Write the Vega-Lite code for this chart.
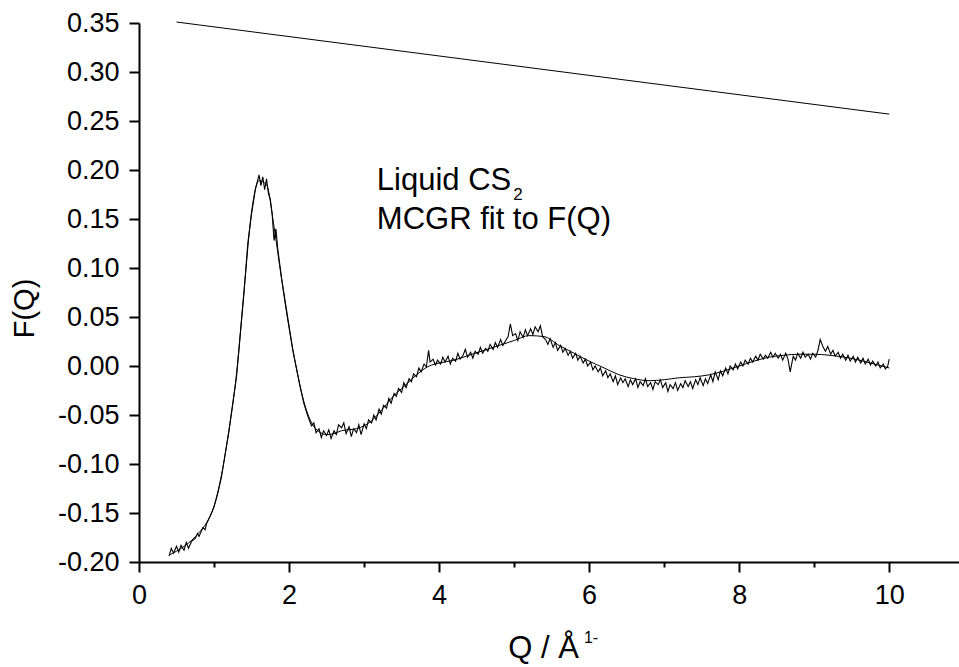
{
  "$schema": "https://vega.github.io/schema/vega-lite/v6.json",
  "width": 820,
  "height": 539,
  "autosize": {"type": "none"},
  "padding": {"left": 139, "top": 23, "right": 0, "bottom": 105},
  "background": "white",
  "config": {"view": {"stroke": null}, "font": "Liberation Sans"},
  "datasets": {
    "exp": [
      {"q":0.40,"f":-0.194},{"q":0.43,"f":-0.186},{"q":0.46,"f":-0.191},{"q":0.50,"f":-0.184},{"q":0.53,"f":-0.190},
      {"q":0.56,"f":-0.183},{"q":0.60,"f":-0.188},{"q":0.63,"f":-0.180},{"q":0.66,"f":-0.186},{"q":0.70,"f":-0.179},
      {"q":0.75,"f":-0.176},{"q":0.78,"f":-0.171},{"q":0.80,"f":-0.174},{"q":0.85,"f":-0.165},{"q":0.88,"f":-0.167},
      {"q":0.90,"f":-0.161},{"q":0.95,"f":-0.153},{"q":1.00,"f":-0.144},{"q":1.05,"f":-0.130},{"q":1.10,"f":-0.113},
      {"q":1.15,"f":-0.089},{"q":1.20,"f":-0.066},{"q":1.25,"f":-0.038},{"q":1.30,"f":-0.011},{"q":1.35,"f":0.032},
      {"q":1.40,"f":0.075},{"q":1.45,"f":0.125},{"q":1.50,"f":0.155},{"q":1.55,"f":0.180},{"q":1.60,"f":0.195},
      {"q":1.625,"f":0.184},{"q":1.65,"f":0.193},{"q":1.675,"f":0.180},{"q":1.70,"f":0.191},{"q":1.725,"f":0.176},
      {"q":1.75,"f":0.170},{"q":1.775,"f":0.155},{"q":1.80,"f":0.128},{"q":1.825,"f":0.140},{"q":1.85,"f":0.119},
      {"q":1.90,"f":0.090},{"q":1.95,"f":0.065},{"q":2.00,"f":0.041},{"q":2.05,"f":0.016},{"q":2.10,"f":-0.003},
      {"q":2.15,"f":-0.022},{"q":2.20,"f":-0.039},{"q":2.25,"f":-0.051},{"q":2.30,"f":-0.061},{"q":2.33,"f":-0.058},
      {"q":2.36,"f":-0.068},{"q":2.40,"f":-0.064},{"q":2.43,"f":-0.073},{"q":2.46,"f":-0.066},{"q":2.50,"f":-0.071},
      {"q":2.53,"f":-0.065},{"q":2.56,"f":-0.074},{"q":2.60,"f":-0.066},{"q":2.63,"f":-0.070},{"q":2.66,"f":-0.060},
      {"q":2.70,"f":-0.063},{"q":2.73,"f":-0.058},{"q":2.76,"f":-0.069},{"q":2.80,"f":-0.062},{"q":2.83,"f":-0.072},
      {"q":2.86,"f":-0.064},{"q":2.90,"f":-0.068},{"q":2.93,"f":-0.060},{"q":2.96,"f":-0.070},{"q":3.00,"f":-0.059},
      {"q":3.03,"f":-0.064},{"q":3.06,"f":-0.055},{"q":3.10,"f":-0.058},{"q":3.13,"f":-0.050},{"q":3.16,"f":-0.055},
      {"q":3.20,"f":-0.044},{"q":3.23,"f":-0.049},{"q":3.26,"f":-0.040},{"q":3.30,"f":-0.043},{"q":3.33,"f":-0.033},
      {"q":3.36,"f":-0.038},{"q":3.40,"f":-0.028},{"q":3.43,"f":-0.031},{"q":3.46,"f":-0.023},{"q":3.50,"f":-0.027},
      {"q":3.53,"f":-0.017},{"q":3.56,"f":-0.022},{"q":3.60,"f":-0.013},{"q":3.63,"f":-0.016},{"q":3.66,"f":-0.008},
      {"q":3.70,"f":-0.011},{"q":3.73,"f":-0.002},{"q":3.76,"f":-0.006},{"q":3.80,"f":0.002},{"q":3.83,"f":-0.001},
      {"q":3.86,"f":0.016},{"q":3.88,"f":0.004},{"q":3.92,"f":0.007},{"q":3.95,"f":0.001},{"q":3.98,"f":0.006},
      {"q":4.02,"f":0.002},{"q":4.05,"f":0.009},{"q":4.08,"f":0.004},{"q":4.12,"f":0.010},{"q":4.15,"f":0.002},
      {"q":4.18,"f":0.008},{"q":4.22,"f":0.005},{"q":4.25,"f":0.013},{"q":4.28,"f":0.007},{"q":4.32,"f":0.011},
      {"q":4.35,"f":0.017},{"q":4.38,"f":0.009},{"q":4.42,"f":0.014},{"q":4.45,"f":0.008},{"q":4.48,"f":0.015},
      {"q":4.52,"f":0.012},{"q":4.55,"f":0.019},{"q":4.58,"f":0.013},{"q":4.62,"f":0.018},{"q":4.65,"f":0.015},
      {"q":4.68,"f":0.022},{"q":4.72,"f":0.017},{"q":4.75,"f":0.024},{"q":4.78,"f":0.019},{"q":4.82,"f":0.027},
      {"q":4.85,"f":0.021},{"q":4.88,"f":0.025},{"q":4.92,"f":0.030},{"q":4.95,"f":0.043},{"q":4.98,"f":0.031},
      {"q":5.02,"f":0.033},{"q":5.05,"f":0.026},{"q":5.08,"f":0.035},{"q":5.12,"f":0.029},{"q":5.15,"f":0.037},
      {"q":5.18,"f":0.031},{"q":5.22,"f":0.038},{"q":5.25,"f":0.032},{"q":5.28,"f":0.040},{"q":5.32,"f":0.035},
      {"q":5.35,"f":0.041},{"q":5.38,"f":0.030},{"q":5.42,"f":0.027},{"q":5.45,"f":0.022},{"q":5.48,"f":0.028},
      {"q":5.52,"f":0.019},{"q":5.55,"f":0.024},{"q":5.58,"f":0.016},{"q":5.62,"f":0.021},{"q":5.65,"f":0.014},
      {"q":5.68,"f":0.018},{"q":5.72,"f":0.011},{"q":5.75,"f":0.015},{"q":5.78,"f":0.008},{"q":5.82,"f":0.013},
      {"q":5.85,"f":0.006},{"q":5.88,"f":0.010},{"q":5.92,"f":0.003},{"q":5.95,"f":0.007},{"q":5.98,"f":0.000},
      {"q":6.02,"f":0.004},{"q":6.05,"f":-0.004},{"q":6.08,"f":0.000},{"q":6.12,"f":-0.006},{"q":6.15,"f":-0.002},
      {"q":6.18,"f":-0.010},{"q":6.22,"f":-0.005},{"q":6.25,"f":-0.012},{"q":6.28,"f":-0.008},{"q":6.32,"f":-0.016},
      {"q":6.35,"f":-0.010},{"q":6.38,"f":-0.019},{"q":6.42,"f":-0.012},{"q":6.45,"f":-0.017},{"q":6.48,"f":-0.013},
      {"q":6.52,"f":-0.021},{"q":6.55,"f":-0.014},{"q":6.58,"f":-0.019},{"q":6.62,"f":-0.013},{"q":6.65,"f":-0.022},
      {"q":6.68,"f":-0.016},{"q":6.72,"f":-0.020},{"q":6.75,"f":-0.013},{"q":6.78,"f":-0.021},{"q":6.82,"f":-0.017},
      {"q":6.85,"f":-0.024},{"q":6.88,"f":-0.016},{"q":6.92,"f":-0.019},{"q":6.95,"f":-0.014},{"q":6.98,"f":-0.022},
      {"q":7.02,"f":-0.017},{"q":7.05,"f":-0.026},{"q":7.08,"f":-0.019},{"q":7.12,"f":-0.023},{"q":7.15,"f":-0.017},
      {"q":7.18,"f":-0.025},{"q":7.22,"f":-0.018},{"q":7.25,"f":-0.022},{"q":7.28,"f":-0.015},{"q":7.32,"f":-0.021},
      {"q":7.35,"f":-0.016},{"q":7.38,"f":-0.023},{"q":7.42,"f":-0.014},{"q":7.45,"f":-0.019},{"q":7.48,"f":-0.012},
      {"q":7.52,"f":-0.020},{"q":7.55,"f":-0.013},{"q":7.58,"f":-0.018},{"q":7.62,"f":-0.009},{"q":7.65,"f":-0.016},
      {"q":7.68,"f":-0.006},{"q":7.72,"f":-0.014},{"q":7.75,"f":-0.005},{"q":7.78,"f":-0.010},{"q":7.82,"f":-0.002},
      {"q":7.85,"f":-0.008},{"q":7.88,"f":0.000},{"q":7.92,"f":-0.004},{"q":7.95,"f":0.002},{"q":7.98,"f":-0.003},
      {"q":8.02,"f":0.004},{"q":8.05,"f":0.000},{"q":8.08,"f":0.006},{"q":8.12,"f":0.002},{"q":8.15,"f":0.008},
      {"q":8.18,"f":0.004},{"q":8.22,"f":0.010},{"q":8.25,"f":0.006},{"q":8.28,"f":0.012},{"q":8.32,"f":0.007},
      {"q":8.35,"f":0.011},{"q":8.38,"f":0.008},{"q":8.42,"f":0.014},{"q":8.45,"f":0.009},{"q":8.48,"f":0.013},
      {"q":8.52,"f":0.008},{"q":8.55,"f":0.012},{"q":8.58,"f":0.006},{"q":8.62,"f":0.013},{"q":8.65,"f":0.007},
      {"q":8.68,"f":-0.006},{"q":8.72,"f":0.010},{"q":8.75,"f":0.006},{"q":8.78,"f":0.013},{"q":8.82,"f":0.008},
      {"q":8.85,"f":0.014},{"q":8.88,"f":0.009},{"q":8.92,"f":0.012},{"q":8.95,"f":0.007},{"q":8.98,"f":0.013},
      {"q":9.02,"f":0.009},{"q":9.05,"f":0.016},{"q":9.08,"f":0.027},{"q":9.12,"f":0.019},{"q":9.15,"f":0.015},
      {"q":9.18,"f":0.020},{"q":9.22,"f":0.012},{"q":9.25,"f":0.016},{"q":9.28,"f":0.010},{"q":9.32,"f":0.014},
      {"q":9.35,"f":0.008},{"q":9.38,"f":0.012},{"q":9.42,"f":0.006},{"q":9.45,"f":0.011},{"q":9.48,"f":0.005},
      {"q":9.52,"f":0.010},{"q":9.55,"f":0.004},{"q":9.58,"f":0.009},{"q":9.62,"f":0.003},{"q":9.65,"f":0.008},
      {"q":9.68,"f":0.002},{"q":9.72,"f":0.007},{"q":9.75,"f":0.001},{"q":9.78,"f":0.005},{"q":9.82,"f":0.000},
      {"q":9.85,"f":0.004},{"q":9.88,"f":-0.002},{"q":9.92,"f":0.002},{"q":9.95,"f":-0.003},{"q":9.98,"f":0.000},
      {"q":10.00,"f":0.007}
    ],
    "fit": [
      {"q":0.4,"f":-0.193},{"q":0.5,"f":-0.189},{"q":0.6,"f":-0.184},{"q":0.7,"f":-0.178},{"q":0.8,"f":-0.170},
      {"q":0.9,"f":-0.160},{"q":1.0,"f":-0.143},{"q":1.1,"f":-0.111},{"q":1.2,"f":-0.065},{"q":1.3,"f":-0.008},
      {"q":1.4,"f":0.077},{"q":1.5,"f":0.157},{"q":1.6,"f":0.189},{"q":1.7,"f":0.185},{"q":1.8,"f":0.142},
      {"q":1.9,"f":0.089},{"q":2.0,"f":0.039},{"q":2.1,"f":-0.003},{"q":2.2,"f":-0.037},{"q":2.3,"f":-0.058},
      {"q":2.4,"f":-0.067},{"q":2.5,"f":-0.070},{"q":2.6,"f":-0.069},{"q":2.7,"f":-0.066},{"q":2.8,"f":-0.065},
      {"q":2.9,"f":-0.064},{"q":3.0,"f":-0.061},{"q":3.1,"f":-0.056},{"q":3.2,"f":-0.048},{"q":3.3,"f":-0.039},
      {"q":3.4,"f":-0.030},{"q":3.5,"f":-0.023},{"q":3.6,"f":-0.016},{"q":3.7,"f":-0.009},{"q":3.8,"f":-0.003},
      {"q":3.9,"f":0.001},{"q":4.0,"f":0.003},{"q":4.2,"f":0.006},{"q":4.4,"f":0.011},{"q":4.6,"f":0.016},
      {"q":4.8,"f":0.021},{"q":5.0,"f":0.026},{"q":5.2,"f":0.031},{"q":5.4,"f":0.030},{"q":5.6,"f":0.021},
      {"q":5.8,"f":0.013},{"q":6.0,"f":0.005},{"q":6.2,"f":-0.002},{"q":6.4,"f":-0.009},{"q":6.6,"f":-0.013},
      {"q":6.8,"f":-0.015},{"q":7.0,"f":-0.014},{"q":7.2,"f":-0.012},{"q":7.4,"f":-0.011},{"q":7.6,"f":-0.009},
      {"q":7.8,"f":-0.005},{"q":8.0,"f":0.000},{"q":8.2,"f":0.005},{"q":8.4,"f":0.009},{"q":8.6,"f":0.011},
      {"q":8.8,"f":0.012},{"q":9.0,"f":0.012},{"q":9.2,"f":0.011},{"q":9.4,"f":0.009},{"q":9.6,"f":0.006},
      {"q":9.8,"f":0.002},{"q":10.0,"f":-0.002}
    ],
    "ref": [{"q":0.5,"f":0.351},{"q":10.0,"f":0.257}],
    "labels": [
      {"q":3.17,"f":0.180,"t":"Liquid CS","s":31},
      {"q":3.17,"f":0.140,"t":"MCGR fit to F(Q)","s":31},
      {"q":4.99,"f":0.169,"t":"2","s":17},
      {"q":5.93,"f":-0.283,"t":"1-","s":16}
    ]
  },
  "layer": [
    {
      "data": {"name": "exp"},
      "mark": {"type": "line", "color": "black", "strokeWidth": 1.1},
      "encoding": {
        "x": {"field": "q", "type": "quantitative",
          "scale": {"domain": [0, 10.93], "nice": false, "zero": false},
          "axis": {
            "values": [0,1,2,3,4,5,6,7,8,9,10],
            "labelExpr": "datum.value % 2 === 0 ? format(datum.value, 'd') : ''",
            "tickSize": {"condition": {"test": "datum.value % 2 === 0", "value": 10}, "value": 5},
            "tickWidth": 2, "tickColor": "black", "domainColor": "black", "domainWidth": 2,
            "grid": false, "labelFont": "Liberation Sans", "labelFontSize": 27, "labelColor": "black",
            "labelPadding": 10, "labelFlush": false, "labelOverlap": false,
            "title": "Q / Å", "titleFont": "Liberation Sans", "titleFontSize": 31, "titleFontWeight": "normal",
            "titleColor": "black", "titleX": 404, "titleY": 95, "titleAlign": "center", "titleBaseline": "alphabetic"
          }
        },
        "y": {"field": "f", "type": "quantitative",
          "scale": {"domain": [-0.2, 0.35], "nice": false, "zero": false},
          "axis": {
            "values": [-0.2,-0.175,-0.15,-0.125,-0.1,-0.075,-0.05,-0.025,0,0.025,0.05,0.075,0.1,0.125,0.15,0.175,0.2,0.225,0.25,0.275,0.3,0.325,0.35],
            "labelExpr": "abs(round(datum.value*1000)) % 50 === 0 ? (datum.value < 0 ? '-' + format(-datum.value, '.2f') : format(datum.value, '.2f')) : ''",
            "tickSize": {"condition": {"test": "abs(round(datum.value*1000)) % 50 === 0", "value": 10}, "value": 5},
            "tickWidth": 2, "tickColor": "black", "domainColor": "black", "domainWidth": 2,
            "grid": false, "labelFont": "Liberation Sans", "labelFontSize": 27, "labelColor": "black",
            "labelPadding": 10, "labelFlush": false, "labelOverlap": false,
            "title": "F(Q)", "titleFont": "Liberation Sans", "titleFontSize": 29, "titleFontWeight": "normal",
            "titleColor": "black", "titleX": -115, "titleY": 285, "titleAngle": 270, "titleAlign": "center", "titleBaseline": "middle"
          }
        }
      }
    },
    {
      "data": {"name": "fit"},
      "mark": {"type": "line", "color": "black", "strokeWidth": 1, "interpolate": "monotone"},
      "encoding": {"x": {"field": "q", "type": "quantitative"}, "y": {"field": "f", "type": "quantitative"}}
    },
    {
      "data": {"name": "ref"},
      "mark": {"type": "line", "color": "black", "strokeWidth": 1},
      "encoding": {"x": {"field": "q", "type": "quantitative"}, "y": {"field": "f", "type": "quantitative"}}
    },
    {
      "data": {"name": "labels"},
      "mark": {"type": "text", "align": "left", "baseline": "alphabetic", "font": "Liberation Sans", "color": "black"},
      "encoding": {
        "x": {"field": "q", "type": "quantitative"},
        "y": {"field": "f", "type": "quantitative"},
        "text": {"field": "t"},
        "size": {"field": "s", "type": "quantitative", "scale": null, "legend": null}
      }
    }
  ]
}
